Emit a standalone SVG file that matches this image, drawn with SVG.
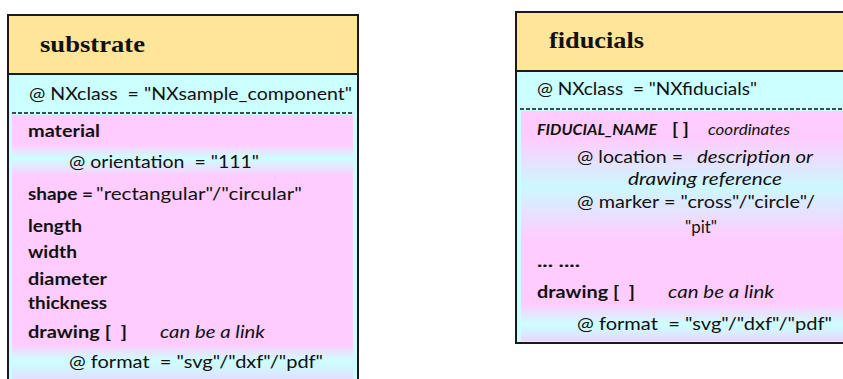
<svg xmlns="http://www.w3.org/2000/svg" width="843" height="379" viewBox="0 0 843 379">
<style>
.box{fill:#CCFFFF;stroke:#1a1a1a;stroke-width:2}
.hdr{fill:#FFE599;stroke:#1a1a1a;stroke-width:2}
.dash{stroke:#111;stroke-width:1.6;stroke-dasharray:4 2;fill:none}
.title{font-family:"Liberation Serif",serif;font-weight:bold;font-size:23px;fill:#111}
text{font-family:Lato,"Liberation Sans",sans-serif;font-size:17.5px;fill:#111;white-space:pre}
.b{font-weight:bold}
.i{font-style:italic}
.s{font-size:14.5px}
</style>
<defs>
<linearGradient id="gs" x1="0" y1="115" x2="0" y2="385" gradientUnits="userSpaceOnUse">
<stop offset="0" stop-color="#FFCCFF"/>
<stop offset="0.11" stop-color="#FFCCFF"/>
<stop offset="0.16" stop-color="#CCFFFF"/>
<stop offset="0.225" stop-color="#FFCCFF"/>
<stop offset="0.85" stop-color="#FFCCFF"/>
<stop offset="0.91" stop-color="#CCFFFF"/>
<stop offset="1" stop-color="#E6D8FF"/>
</linearGradient>
<linearGradient id="gf" x1="0" y1="111" x2="0" y2="341" gradientUnits="userSpaceOnUse">
<stop offset="0" stop-color="#FFCCFF"/>
<stop offset="0.12" stop-color="#FFCCFF"/>
<stop offset="0.33" stop-color="#CCF8FF"/>
<stop offset="0.55" stop-color="#FFCCFF"/>
<stop offset="0.84" stop-color="#FFCCFF"/>
<stop offset="0.93" stop-color="#CCFFFF"/>
<stop offset="1" stop-color="#E6D8FF"/>
</linearGradient>
</defs>
<g id="substrate">
<rect class="box" x="8" y="15" width="350" height="380"/>
<rect x="12" y="115" width="341" height="270" fill="url(#gs)"/>
<rect class="hdr" x="8" y="15" width="350" height="59"/>
<line class="dash" x1="12" y1="113" x2="353" y2="113"/>
<text class="title" x="40" y="52" textLength="105" lengthAdjust="spacingAndGlyphs">substrate</text>
<text x="29" y="100" textLength="323" lengthAdjust="spacingAndGlyphs">@ NXclass  = "NXsample_component"</text>
<text class="b" x="28" y="137" textLength="72" lengthAdjust="spacingAndGlyphs">material</text>
<text x="69" y="168" textLength="190" lengthAdjust="spacingAndGlyphs">@ orientation  = "111"</text>
<text class="b" x="28" y="200" textLength="65" lengthAdjust="spacingAndGlyphs">shape =</text>
<text x="96" y="200" textLength="206" lengthAdjust="spacingAndGlyphs">"rectangular"/"circular"</text>
<text class="b" x="28" y="232" textLength="54" lengthAdjust="spacingAndGlyphs">length</text>
<text class="b" x="28" y="258" textLength="49" lengthAdjust="spacingAndGlyphs">width</text>
<text class="b" x="28" y="285" textLength="79" lengthAdjust="spacingAndGlyphs">diameter</text>
<text class="b" x="28" y="309" textLength="79" lengthAdjust="spacingAndGlyphs">thickness</text>
<text class="b" x="28" y="338" textLength="99" lengthAdjust="spacingAndGlyphs">drawing [  ]</text>
<text class="i" x="160" y="338" textLength="105" lengthAdjust="spacingAndGlyphs">can be a link</text>
<text x="69" y="368" textLength="254" lengthAdjust="spacingAndGlyphs">@ format  = "svg"/"dxf"/"pdf"</text>
</g>
<g id="fiducials">
<rect class="box" x="516" y="12" width="340" height="331"/>
<rect x="521" y="111" width="330" height="230" fill="url(#gf)"/>
<rect class="hdr" x="516" y="12" width="340" height="59"/>
<line class="dash" x1="520" y1="109" x2="843" y2="109"/>
<text class="title" x="549" y="48" textLength="95" lengthAdjust="spacingAndGlyphs">fiducials</text>
<text x="537" y="95" textLength="220" lengthAdjust="spacingAndGlyphs">@ NXclass  = "NXfiducials"</text>
<text class="b i s" x="537" y="135" textLength="120" lengthAdjust="spacingAndGlyphs">FIDUCIAL_NAME</text>
<text class="b" x="672" y="135" textLength="17" lengthAdjust="spacingAndGlyphs">[ ]</text>
<text class="i s" x="708" y="135" textLength="82" lengthAdjust="spacingAndGlyphs">coordinates</text>
<text x="577" y="163" textLength="106" lengthAdjust="spacingAndGlyphs">@ location =</text>
<text class="i" x="697" y="163" textLength="116" lengthAdjust="spacingAndGlyphs">description or</text>
<text class="i" x="628" y="185" textLength="154" lengthAdjust="spacingAndGlyphs">drawing reference</text>
<text x="577" y="208" textLength="238" lengthAdjust="spacingAndGlyphs">@ marker = "cross"/"circle"/</text>
<text x="685" y="233" textLength="32" lengthAdjust="spacingAndGlyphs">"pit"</text>
<text class="b" x="537" y="267" textLength="43" lengthAdjust="spacingAndGlyphs">... ....</text>
<text class="b" x="537" y="298" textLength="98" lengthAdjust="spacingAndGlyphs">drawing [  ]</text>
<text class="i" x="668" y="298" textLength="106" lengthAdjust="spacingAndGlyphs">can be a link</text>
<text x="577" y="330" textLength="255" lengthAdjust="spacingAndGlyphs">@ format  = "svg"/"dxf"/"pdf"</text>
</g>
</svg>
